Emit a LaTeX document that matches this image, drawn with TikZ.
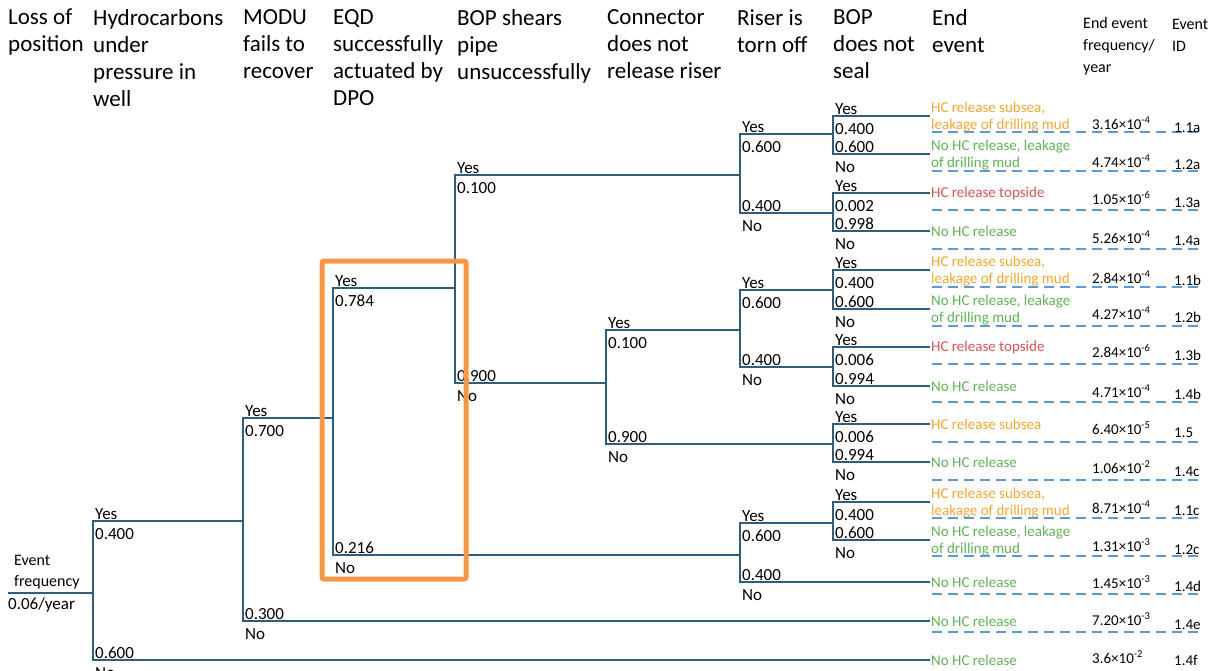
\documentclass[tikz,border=0pt]{standalone}
\usepackage{fontspec}
\setmainfont{Carlito}
\usepackage{xcolor}
\usepackage{tikz}
\usetikzlibrary{positioning}

\definecolor{treeline}{RGB}{47,94,124}
\definecolor{rowline}{RGB}{91,155,213}
\definecolor{evorange}{RGB}{245,166,50}
\definecolor{evgreen}{RGB}{96,178,86}
\definecolor{evred}{RGB}{212,84,84}
\definecolor{focusbox}{RGB}{247,150,70}

\newcommand{\branchlabels}[3]{%
  \node[pup] (#1-yes) at (#1Y) {Yes};
  \node[pdn] (#1-py)  at (#1Y) {#2};
  \node[pup] (#1-pn)  at (#1N) {#3};
  \node[pdn] (#1-no)  at (#1N) {No};}

\begin{document}
\begin{tikzpicture}[
  x=1pt, y=-1pt,
  head/.style={anchor=north west, align=left, inner sep=0pt,
               font=\fontsize{23}{27}\selectfont},
  headsm/.style={anchor=north west, align=left, inner sep=0pt,
                 font=\fontsize{16}{22}\selectfont},
  tree/.style={draw=treeline, line width=2.2pt},
  rowsep/.style={draw=rowline, line width=2.2pt, dash pattern=on 10pt off 6pt},
  pup/.style={anchor=base west, inner sep=0pt, xshift=2pt, yshift=2pt,
              font=\fontsize{17}{19}\selectfont},
  pdn/.style={anchor=base west, inner sep=0pt, xshift=2pt, yshift=-18pt,
              font=\fontsize{17}{19}\selectfont},
  outcome/.style={anchor=west, align=left, inner sep=1pt,
                  font=\fontsize{15}{17.5}\selectfont},
  freq/.style={anchor=base west, inner sep=0pt, font=\fontsize{15}{18}\selectfont},
  evid/.style={anchor=base west, inner sep=0pt, font=\fontsize{15}{18}\selectfont}]
\useasboundingbox (0,0) rectangle (1224,670);

% column heads
\node[head] (hLoss)  at (8,9)   {Loss of\\position};
\node[head] (hHc)    at (93,9)  {Hydrocarbons\\under\\pressure in\\well};
\node[head] (hModu)  at (243,9) {MODU\\fails to\\recover};
\node[head] (hEqd)   at (333,9) {EQD\\successfully\\actuated by\\DPO};
\node[head] (hShear) at (457,9) {BOP shears\\pipe\\unsuccessfully};
\node[head] (hConn)  at (607,9) {Connector\\does not\\release riser};
\node[head] (hRiser) at (737,9) {Riser is\\torn off};
\node[head] (hSeal)  at (833,9) {BOP\\does not\\seal};
\node[head] (hEnd)   at (932,9) {End\\event};
\node[headsm] (hFreq) at (1083,17) {End event\\frequency/\\year};
\node[headsm] (hId)   at (1172,19) {Event\\ID};

% branch points
\coordinate (root)  at (8,593);
\coordinate (hc)    at (93,593);   \coordinate (hcY)    at (93,521);  \coordinate (hcN)    at (93,660);
\coordinate (modu)  at (243,521);  \coordinate (moduY)  at (243,418); \coordinate (moduN)  at (243,621);
\coordinate (eqd)   at (333,418);  \coordinate (eqdY)   at (333,288); \coordinate (eqdN)   at (333,555);
\coordinate (shear) at (455,288);  \coordinate (shearY) at (455,175); \coordinate (shearN) at (455,383);
\coordinate (conn)  at (606,383);  \coordinate (connY)  at (606,330); \coordinate (connN)  at (606,444);
\coordinate (riserA) at (740,175); \coordinate (riserAY) at (740,134); \coordinate (riserAN) at (740,213);
\coordinate (riserB) at (740,330); \coordinate (riserBY) at (740,290); \coordinate (riserBN) at (740,367);
\coordinate (riserC) at (740,555); \coordinate (riserCY) at (740,523); \coordinate (riserCN) at (740,582);
\coordinate (sealA) at (833,134);  \coordinate (sealAY) at (833,116); \coordinate (sealAN) at (833,154);
\coordinate (sealB) at (833,213);  \coordinate (sealBY) at (833,193); \coordinate (sealBN) at (833,231);
\coordinate (sealC) at (833,290);  \coordinate (sealCY) at (833,270); \coordinate (sealCN) at (833,309);
\coordinate (sealD) at (833,367);  \coordinate (sealDY) at (833,347); \coordinate (sealDN) at (833,386);
\coordinate (sealE) at (833,444);  \coordinate (sealEY) at (833,424); \coordinate (sealEN) at (833,462);
\coordinate (sealF) at (833,523);  \coordinate (sealFY) at (833,502); \coordinate (sealFN) at (833,540);

% end events
\node[outcome, text=evorange] (ev1)  at (930,117) {HC release subsea,\\leakage of drilling mud};
\node[outcome, text=evgreen]  (ev2)  at (930,155) {No HC release, leakage\\of drilling mud};
\node[outcome, text=evred]    (ev3)  at (930,193) {HC release topside};
\node[outcome, text=evgreen]  (ev4)  at (930,231) {No HC release};
\node[outcome, text=evorange] (ev5)  at (930,271) {HC release subsea,\\leakage of drilling mud};
\node[outcome, text=evgreen]  (ev6)  at (930,310) {No HC release, leakage\\of drilling mud};
\node[outcome, text=evred]    (ev7)  at (930,347) {HC release topside};
\node[outcome, text=evgreen]  (ev8)  at (930,386) {No HC release};
\node[outcome, text=evorange] (ev9)  at (930,424) {HC release subsea};
\node[outcome, text=evgreen]  (ev10) at (930,462) {No HC release};
\node[outcome, text=evorange] (ev11) at (930,503) {HC release subsea,\\leakage of drilling mud};
\node[outcome, text=evgreen]  (ev12) at (930,541) {No HC release, leakage\\of drilling mud};
\node[outcome, text=evgreen]  (ev13) at (930,582) {No HC release};
\node[outcome, text=evgreen]  (ev14) at (930,621) {No HC release};
\node[outcome, text=evgreen]  (ev15) at (930,660) {No HC release};

% tree
\draw[tree] (root) -- (hc);
\draw[tree] (modu) -- (hcY) -- (hcN) -- (ev15.west);
\draw[tree] (eqd) -- (moduY) -- (moduN) -- (ev14.west);
\draw[tree] (shear) -- (eqdY) -- (eqdN) -- (riserC);
\draw[tree] (riserA) -- (shearY) -- (shearN) -- (conn);
\draw[tree] (riserB) -- (connY) -- (connN) -- (sealE);
\draw[tree] (sealA) -- (riserAY) -- (riserAN) -- (sealB);
\draw[tree] (sealC) -- (riserBY) -- (riserBN) -- (sealD);
\draw[tree] (sealF) -- (riserCY) -- (riserCN) -- (ev13.west);
\draw[tree] (ev1.west |- sealAY) -- (sealAY) -- (sealAN) -- (ev2.west |- sealAN);
\draw[tree] (ev3.west) -- (sealBY) -- (sealBN) -- (ev4.west);
\draw[tree] (ev5.west |- sealCY) -- (sealCY) -- (sealCN) -- (ev6.west |- sealCN);
\draw[tree] (ev7.west) -- (sealDY) -- (sealDN) -- (ev8.west);
\draw[tree] (ev9.west) -- (sealEY) -- (sealEN) -- (ev10.west);
\draw[tree] (ev11.west |- sealFY) -- (sealFY) -- (sealFN) -- (ev12.west |- sealFN);

\node[anchor=south west, align=left, inner sep=0pt, font=\fontsize{16}{21}\selectfont]
  (rootlab) at (14,589) {Event\\frequency};
\node[anchor=base west, inner sep=0pt, font=\fontsize{17}{19}\selectfont]
  (rootval) at (8,609) {0.06/year};

\branchlabels{hc}{0.400}{0.600}
\branchlabels{modu}{0.700}{0.300}
\branchlabels{eqd}{0.784}{0.216}
\branchlabels{shear}{0.100}{0.900}
\branchlabels{conn}{0.100}{0.900}
\branchlabels{riserA}{0.600}{0.400}
\branchlabels{riserB}{0.600}{0.400}
\branchlabels{riserC}{0.600}{0.400}
\branchlabels{sealA}{0.400}{0.600}
\branchlabels{sealB}{0.002}{0.998}
\branchlabels{sealC}{0.400}{0.600}
\branchlabels{sealD}{0.006}{0.994}
\branchlabels{sealE}{0.006}{0.994}
\branchlabels{sealF}{0.400}{0.600}

% frequency table
\draw[rowsep] (932,132) -- (1203,132);
\draw[rowsep] (932,171) -- (1203,171);
\draw[rowsep] (932,210) -- (1203,210);
\draw[rowsep] (932,249) -- (1203,249);
\draw[rowsep] (932,287) -- (1203,287);
\draw[rowsep] (932,326) -- (1203,326);
\draw[rowsep] (932,364) -- (1203,364);
\draw[rowsep] (932,402) -- (1203,402);
\draw[rowsep] (932,442) -- (1203,442);
\draw[rowsep] (932,480) -- (1203,480);
\draw[rowsep] (932,518) -- (1203,518);
\draw[rowsep] (932,556) -- (1203,556);
\draw[rowsep] (932,594) -- (1203,594);
\draw[rowsep] (932,632) -- (1203,632);

\node[freq] (fr1)  at (1092,129) {3.16×10\textsuperscript{-4}};
\node[freq] (fr2)  at (1092,167) {4.74×10\textsuperscript{-4}};
\node[freq] (fr3)  at (1092,204) {1.05×10\textsuperscript{-6}};
\node[freq] (fr4)  at (1092,243) {5.26×10\textsuperscript{-4}};
\node[freq] (fr5)  at (1092,283) {2.84×10\textsuperscript{-4}};
\node[freq] (fr6)  at (1092,319) {4.27×10\textsuperscript{-4}};
\node[freq] (fr7)  at (1092,357) {2.84×10\textsuperscript{-6}};
\node[freq] (fr8)  at (1092,397) {4.71×10\textsuperscript{-4}};
\node[freq] (fr9)  at (1092,434) {6.40×10\textsuperscript{-5}};
\node[freq] (fr10) at (1092,473) {1.06×10\textsuperscript{-2}};
\node[freq] (fr11) at (1092,513) {8.71×10\textsuperscript{-4}};
\node[freq] (fr12) at (1092,551) {1.31×10\textsuperscript{-3}};
\node[freq] (fr13) at (1092,588) {1.45×10\textsuperscript{-3}};
\node[freq] (fr14) at (1092,625) {7.20×10\textsuperscript{-3}};
\node[freq] (fr15) at (1092,663) {3.6×10\textsuperscript{-2}};

\node[evid] (id1)  at (1174,132) {1.1a};
\node[evid] (id2)  at (1174,169) {1.2a};
\node[evid] (id3)  at (1174,207) {1.3a};
\node[evid] (id4)  at (1174,245) {1.4a};
\node[evid] (id5)  at (1174,285) {1.1b};
\node[evid] (id6)  at (1174,322) {1.2b};
\node[evid] (id7)  at (1174,360) {1.3b};
\node[evid] (id8)  at (1174,399) {1.4b};
\node[evid] (id9)  at (1174,437) {1.5};
\node[evid] (id10) at (1174,476) {1.4c};
\node[evid] (id11) at (1174,515) {1.1c};
\node[evid] (id12) at (1174,554) {1.2c};
\node[evid] (id13) at (1174,591) {1.4d};
\node[evid] (id14) at (1174,629) {1.4e};
\node[evid] (id15) at (1174,665) {1.4f};

% highlighted EQD branch
\node[draw=focusbox, line width=5pt, rounded corners=2pt, inner sep=0pt,
      minimum width=144pt, minimum height=318pt] (focus) at (394,420) {};
\end{tikzpicture}
\end{document}
